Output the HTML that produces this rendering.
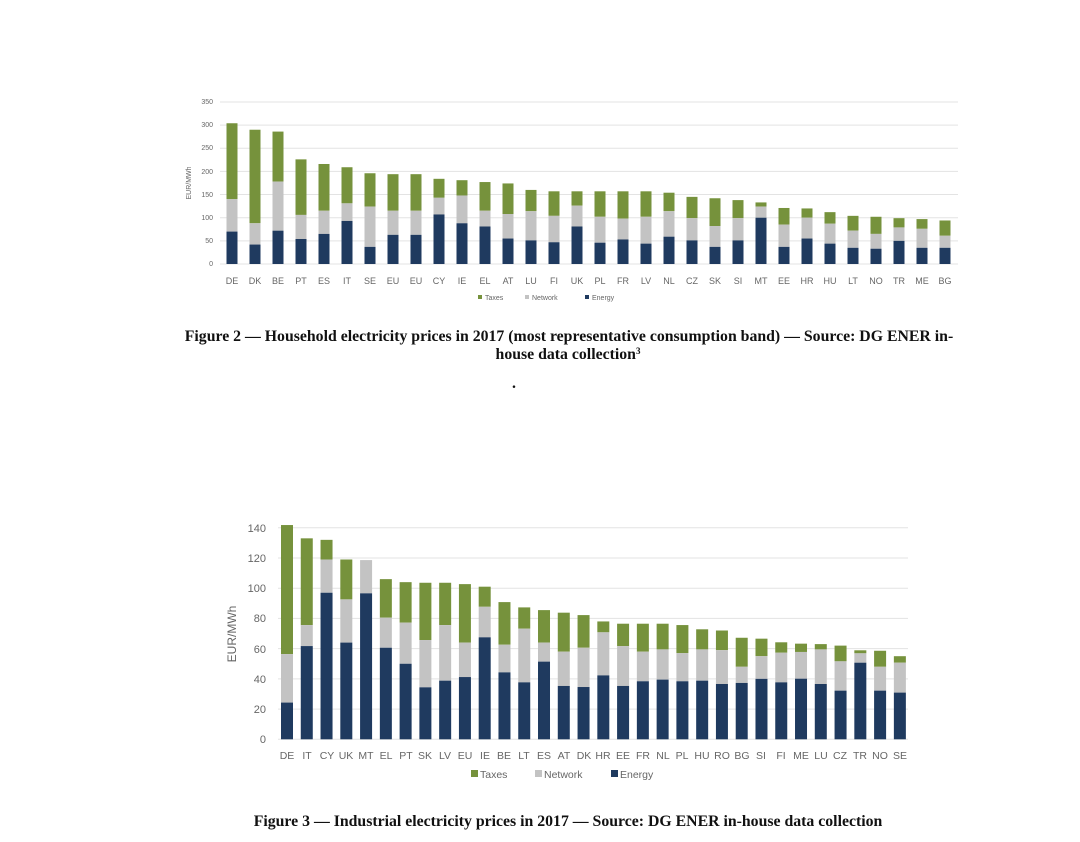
<!DOCTYPE html>
<html><head><meta charset="utf-8"><style>
body{margin:0;background:#fff;width:1080px;height:842px;overflow:hidden}
svg{display:block}
.t{font-family:"Liberation Sans",sans-serif;fill:#666}
.c{font-family:"Liberation Serif",serif;font-weight:bold;fill:#111;font-size:15.8px}
</style></head><body>
<svg id="s" width="1080" height="842" xmlns="http://www.w3.org/2000/svg">
<g id="g1"></g><g id="g2"></g>
<g class="t" font-size="7" text-anchor="end">
<text x="213" y="266">0</text><text x="213" y="243">50</text><text x="213" y="220">100</text><text x="213" y="197">150</text><text x="213" y="174">200</text><text x="213" y="150">250</text><text x="213" y="127">300</text><text x="213" y="104">350</text>
</g>
<text class="t" font-size="7" transform="translate(191,183) rotate(-90)" text-anchor="middle">EUR/MWh</text>
<g class="t" font-size="9" text-anchor="middle">
<text x="232" y="284">DE</text><text x="255" y="284">DK</text><text x="278" y="284">BE</text><text x="301" y="284">PT</text><text x="324" y="284">ES</text><text x="347" y="284">IT</text><text x="370" y="284">SE</text><text x="393" y="284">EU</text><text x="416" y="284">EU</text><text x="439" y="284">CY</text><text x="462" y="284">IE</text><text x="485" y="284">EL</text><text x="508" y="284">AT</text><text x="531" y="284">LU</text><text x="554" y="284">FI</text><text x="577" y="284">UK</text><text x="600" y="284">PL</text><text x="623" y="284">FR</text><text x="646" y="284">LV</text><text x="669" y="284">NL</text><text x="692" y="284">CZ</text><text x="715" y="284">SK</text><text x="738" y="284">SI</text><text x="761" y="284">MT</text><text x="784" y="284">EE</text><text x="807" y="284">HR</text><text x="830" y="284">HU</text><text x="853" y="284">LT</text><text x="876" y="284">NO</text><text x="899" y="284">TR</text><text x="922" y="284">ME</text><text x="945" y="284">BG</text>
</g>
<g class="t" font-size="7">
<rect x="478" y="295" width="4" height="4" fill="#76923c"/><text x="485" y="300">Taxes</text>
<rect x="525" y="295" width="4" height="4" fill="#c3c3c3"/><text x="532" y="300">Network</text>
<rect x="585" y="295" width="4" height="4" fill="#1f3a5f"/><text x="592" y="300">Energy</text>
</g>
<text class="c" x="569" y="341" text-anchor="middle">Figure 2 — Household electricity prices in 2017 (most representative consumption band) — Source: DG ENER in-</text>
<text class="c" x="568" y="359" text-anchor="middle">house data collection<tspan font-size="9" dy="-5">3</tspan></text>
<text class="c" x="512" y="388" font-size="10">.</text>
<g class="t" font-size="11" text-anchor="end">
<text x="266" y="743">0</text><text x="266" y="713">20</text><text x="266" y="683">40</text><text x="266" y="653">60</text><text x="266" y="622">80</text><text x="266" y="592">100</text><text x="266" y="562">120</text><text x="266" y="532">140</text>
</g>
<text class="t" font-size="12" transform="translate(236,634) rotate(-90)" text-anchor="middle">EUR/MWh</text>
<g class="t" font-size="10.5" text-anchor="middle">
<text x="287" y="759">DE</text><text x="307" y="759">IT</text><text x="327" y="759">CY</text><text x="346" y="759">UK</text><text x="366" y="759">MT</text><text x="386" y="759">EL</text><text x="406" y="759">PT</text><text x="425" y="759">SK</text><text x="445" y="759">LV</text><text x="465" y="759">EU</text><text x="485" y="759">IE</text><text x="504" y="759">BE</text><text x="524" y="759">LT</text><text x="544" y="759">ES</text><text x="564" y="759">AT</text><text x="584" y="759">DK</text><text x="603" y="759">HR</text><text x="623" y="759">EE</text><text x="643" y="759">FR</text><text x="663" y="759">NL</text><text x="682" y="759">PL</text><text x="702" y="759">HU</text><text x="722" y="759">RO</text><text x="742" y="759">BG</text><text x="761" y="759">SI</text><text x="781" y="759">FI</text><text x="801" y="759">ME</text><text x="821" y="759">LU</text><text x="840" y="759">CZ</text><text x="860" y="759">TR</text><text x="880" y="759">NO</text><text x="900" y="759">SE</text>
</g>
<g class="t" font-size="10.5">
<rect x="471" y="770" width="7" height="7" fill="#76923c"/><text x="480" y="778">Taxes</text>
<rect x="535" y="770" width="7" height="7" fill="#c3c3c3"/><text x="544" y="778">Network</text>
<rect x="611" y="770" width="7" height="7" fill="#1f3a5f"/><text x="620" y="778">Energy</text>
</g>
<text class="c" x="568" y="826" text-anchor="middle">Figure 3 — Industrial electricity prices in 2017 — Source: DG ENER in-house data collection</text>
</svg>
<script>
var NS="http://www.w3.org/2000/svg";
function r(g,x,y,w,h,f){var e=document.createElementNS(NS,"rect");e.setAttribute("x",x);e.setAttribute("y",y);e.setAttribute("width",w);e.setAttribute("height",Math.max(0,h));e.setAttribute("fill",f);g.appendChild(e);}
function l(g,x1,x2,y){var e=document.createElementNS(NS,"line");e.setAttribute("x1",x1);e.setAttribute("x2",x2);e.setAttribute("y1",y);e.setAttribute("y2",y);e.setAttribute("stroke","#e3e3e3");e.setAttribute("stroke-width","1");g.appendChild(e);}
var G="#76923c",N="#c3c3c3",E="#1f3a5f";
var d1=[[304,140,70],[290,88,42],[286,178,72],[226,106,54],[216,115,65],[209,131,93],[196,124,37],[194,115,63],[194,115,63],[184,143,107],[181,148,88],[177,115,81],[174,108,55],[160,114,51],[157,104,47],[157,126,81],[157,102,46],[157,98,53],[157,102,44],[154,114,59],[145,99,51],[142,82,37],[138,99,51],[133,124,100],[121,85,37],[120,100,55],[112,87,44],[104,72,35],[102,65,33],[99,79,50],[97,76,35],[94,61,35]];
var g1=document.getElementById("g1");
for(var k=0;k<=7;k++)l(g1,220,958,264-k*50*0.463);
d1.forEach(function(v,i){var cx=232+23*i,w=11,s=0.463,y0=264;
r(g1,cx-w/2,y0-v[0]*s,w,(v[0]-v[1])*s,G);r(g1,cx-w/2,y0-v[1]*s,w,(v[1]-v[2])*s,N);r(g1,cx-w/2,y0-v[2]*s,w,v[2]*s,E);});
var d2=[[141.8,56.4,24.3],[133,75.6,61.7],[132,119,97],[119,92.6,64],[118.6,118.6,96.6],[106,80.5,60.6],[104,77.2,50],[103.6,65.7,34.4],[103.6,75.6,38.8],[102.7,64,41.2],[101,87.7,67.5],[90.8,62.6,44.3],[87.3,73.2,37.7],[85.5,64,51.4],[83.8,58,35.3],[82.2,60.6,34.6],[78,70.8,42.3],[76.5,61.7,35.3],[76.5,58,38.4],[76.5,59.5,39.5],[75.6,57,38.4],[72.8,59.5,38.8],[72,59,36.6],[67.2,48,37.3],[66.6,55,40],[64.2,57.3,37.7],[63.3,57.8,40.1],[63,59.5,36.6],[62,51.6,32.2],[58.9,56.9,50.7],[58.6,48,32.2],[55,50.7,30.9]];
var g2=document.getElementById("g2");
for(var k=0;k<=7;k++)l(g2,278,908,739.3-k*20*1.511);
d2.forEach(function(v,i){var cx=287+19.77*i,w=12,s=1.511,y0=739.3;
r(g2,cx-w/2,y0-v[0]*s,w,(v[0]-v[1])*s,G);r(g2,cx-w/2,y0-v[1]*s,w,(v[1]-v[2])*s,N);r(g2,cx-w/2,y0-v[2]*s,w,v[2]*s,E);});
</script>
</body></html>
